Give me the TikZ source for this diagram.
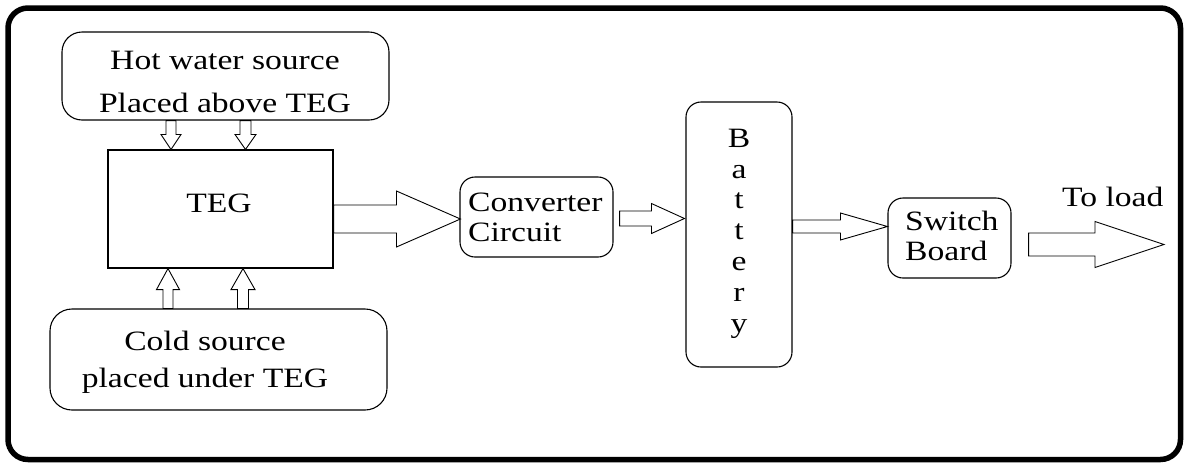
\documentclass[tikz,border=0pt]{standalone}
\usepackage{fontspec}
\setmainfont{Liberation Serif}[FakeStretch=1.2]
\usetikzlibrary{calc}
\tikzset{
  rbox/.style={draw, line width=1.1pt, inner sep=0pt},
  sbox/.style={draw, line width=1.1pt, inner sep=0pt},
  txt/.style={inner sep=0pt, font=\fontsize{28}{30}\selectfont},
  blk/.style={draw, line width=0.9pt, fill=white, line join=miter},
}
% horizontal block arrow: start, tip, shaft half, head half, head length
\newcommand\harr[5]{%
  \draw[blk] ($(#1)+(0,-#3)$) -- ($(#2)+(-#5,-#3)$) -- ($(#2)+(-#5,-#4)$) -- (#2)
    -- ($(#2)+(-#5,#4)$) -- ($(#2)+(-#5,#3)$) -- ($(#1)+(0,#3)$) -- cycle;}
% vertical block arrow: start, tip, shaft half, head half, signed offset tip->head base
\newcommand\varr[5]{%
  \draw[blk] ($(#1)+(-#3,0)$) -- ($(#2)+(-#3,#5)$) -- ($(#2)+(-#4,#5)$) -- (#2)
    -- ($(#2)+(#4,#5)$) -- ($(#2)+(#3,#5)$) -- ($(#1)+(#3,0)$) -- cycle;}
\begin{document}
\begin{tikzpicture}[x=1pt,y=-1pt]
\useasboundingbox (0,0) rectangle (1184,464);
% outer frame
\draw[line width=5.5pt, rounded corners=20pt] (8,8) rectangle (1180.5,459.5);

% boxes
\node[rbox, rounded corners=20pt, minimum width=327pt, minimum height=88pt] (hot) at (225.5,76) {};
\node[sbox, minimum width=225pt, minimum height=118pt] (teg) at (220.5,209) {};
\node[rbox, rounded corners=22pt, minimum width=337pt, minimum height=101pt] (cold) at (218.5,359.5) {};
\node[rbox, rounded corners=15pt, minimum width=153pt, minimum height=80pt] (conv) at (536.5,217) {};
\node[rbox, rounded corners=15pt, minimum width=106pt, minimum height=265pt] (batt) at (739,234.5) {};
\node[rbox, rounded corners=15pt, minimum width=123pt, minimum height=80pt] (sw) at (949.5,238) {};

% texts
\node[txt, align=center, font=\fontsize{28}{43}\selectfont] (hottxt) at (225,82) {Hot water source\\Placed above TEG};
\node[txt] (tegtxt) at (219,203) {TEG};
\node[txt, align=center, font=\fontsize{28}{37}\selectfont] (coldtxt) at (205,362) {Cold source\\placed under TEG};
\node[txt, align=left, anchor=west] (convtxt) at (468,217.5) {Converter\\Circuit};
\node[txt, align=center, font=\fontsize{28}{30.8}\selectfont] (batttxt) at (739,233.5) {B\\a\\t\\t\\e\\r\\y};
\node[txt, align=left, anchor=west] (swtxt) at (905,236) {Switch\\Board};
\node[txt, anchor=base west] (loadtxt) at (1062,206) {To load};

% connector anchor points
\coordinate (h1s) at (171,0 |- hot.south);
\coordinate (h1t) at (171,0 |- teg.north);
\coordinate (h2s) at (245.5,0 |- hot.south);
\coordinate (h2t) at (245.5,0 |- teg.north);
\coordinate (c1s) at (168,0 |- cold.north);
\coordinate (c1t) at (168,0 |- teg.south);
\coordinate (c2s) at (243,0 |- cold.north);
\coordinate (c2t) at (243,0 |- teg.south);
\coordinate (a5s) at (teg.east |- 0,219);
\coordinate (a5t) at ($(conv.west |- 0,219)+(1,0)$);
\coordinate (a6s) at ($(conv.east |- 0,218.5)+(6,0)$);
\coordinate (a6t) at ($(batt.west |- 0,218.5)+(-1,0)$);
\coordinate (a7s) at (batt.east |- 0,226.5);
\coordinate (a7t) at (sw.west |- 0,226.5);
\coordinate (a8s) at ($(sw.east |- 0,244.5)+(17,0)$);
\coordinate (load) at (1164,244.5);

% block arrows
\varr{h1s}{h1t}{5}{10}{-15}
\varr{h2s}{h2t}{5.5}{10.5}{-15}
\varr{c1s}{c1t}{5}{11.5}{21}
\varr{c2s}{c2t}{5.5}{12}{21}
\harr{a5s}{a5t}{14}{28}{64}
\harr{a6s}{a6t}{7.5}{15}{33}
\harr{a7s}{a7t}{6.5}{13.5}{47}
\harr{a8s}{load}{11.5}{23}{69}
\end{tikzpicture}
\end{document}
